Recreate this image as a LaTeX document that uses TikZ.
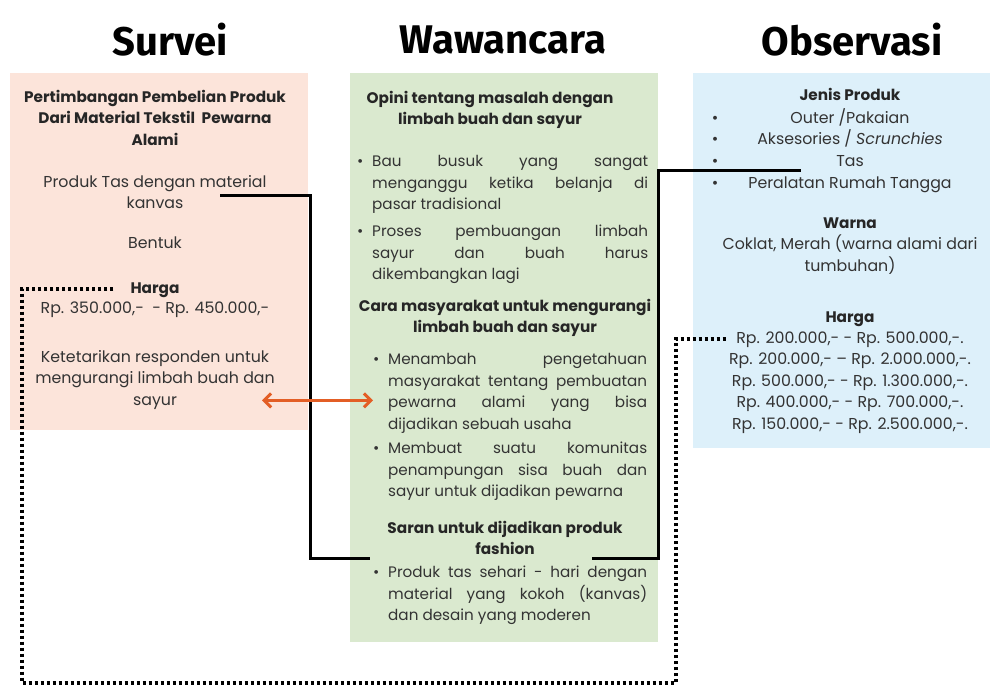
\documentclass[tikz,border=0pt]{standalone}
\usepackage{fontspec}
\setmainfont{Poppins}
\newfontfamily\judulfont{Fira Sans}
\usetikzlibrary{arrows.meta,calc,positioning}

\definecolor{bgsurvei}{HTML}{FCE4DA}
\definecolor{bgwawancara}{HTML}{DAE9CF}
\definecolor{bgobservasi}{HTML}{DDF0FA}
\definecolor{teksabu}{HTML}{333333}
\definecolor{oranye}{HTML}{E35E25}

% bullet list with own indent and item gap
\newenvironment{poin}[2]{\setlength{\linewidth}{\hsize}%
  \hyphenpenalty=10000 \exhyphenpenalty=10000
  \begin{list}{\textbullet}{\setlength{\leftmargin}{#1}\setlength{\labelwidth}{0pt}%
    \setlength{\labelsep}{#1}\setlength{\itemsep}{#2}\setlength{\topsep}{0pt}%
    \setlength{\partopsep}{0pt}\setlength{\parsep}{0pt}%
    \renewcommand{\makelabel}[1]{\rlap{##1}}}}{\end{list}}

\tikzset{
  judul/.style={font=\judulfont\bfseries\fontsize{40}{48}\selectfont, inner sep=0},
  kotak/.style={anchor=north west, inner sep=0, draw=none},
  isi/.style={font=\fontsize{15.8}{21.5}\selectfont, text=teksabu, inner sep=0,
    anchor=north, align=center, execute at begin node=\strut},
  kepala/.style={isi, text=black!85, font=\bfseries\fontsize{15.3}{21.5}\selectfont},
  daftar/.style={font=\fontsize{15.2}{21.5}\selectfont, text=teksabu, inner sep=0,
    anchor=north west, align=justify},
  garis/.style={black, line width=3pt},
  titik/.style={black, line width=3.2pt, dash pattern=on 3pt off 3pt},
  panah/.style={oranye, line width=3pt,
    {Straight Barb[length=7pt,width=14pt]}-{Straight Barb[length=7pt,width=14pt]}},
}

\begin{document}
\begin{tikzpicture}[x=1pt, y=-1pt]
  \fill[white] (0,0) rectangle (992,688);
  \useasboundingbox (0,0) rectangle (992,688);

  % titles
  \node[judul] (t-survei) at (170,40) {Survei};
  \node[judul] (t-wawancara) at (503,40) {Wawancara};
  \node[judul] (t-observasi) at (852,40) {Observasi};

  % boxes
  \node[kotak, fill=bgsurvei, minimum width=298, minimum height=357] (k-survei) at (10,73) {};
  \node[kotak, fill=bgwawancara, minimum width=308, minimum height=569] (k-wawancara) at (350,73) {};
  \node[kotak, fill=bgobservasi, minimum width=297, minimum height=375] (k-observasi) at (693,73) {};

  % Survei
  \node[kepala] (sv-judul) at (155,90)
    {Pertimbangan Pembelian Produk\\ Dari Material Tekstil\ \ Pewarna\\ Alami};
  \node[isi] (sv-tas) at (155,175) {Produk Tas dengan material\\ kanvas};
  \node[isi] (sv-bentuk) at (155,233) {Bentuk};
  \node[kepala] (sv-harga) at (155,278) {Harga};
  \node[isi] (sv-harga-isi) at (155,298) {Rp. 350.000,-\ \ - Rp. 450.000,-};
  \node[isi] (sv-minat) at (155,350)
    {Ketetarikan responden untuk\\ mengurangi limbah buah dan\\ sayur};

  % Wawancara
  \node[kepala] (ww-opini) at (490,91) {Opini tentang masalah dengan\\ limbah buah dan sayur};
  \node[daftar, text width=291] (ww-opini-isi) at (357,145) {%
    \begin{poin}{15pt}{5.5pt}
      \item\strut Bau busuk yang sangat\linebreak menganggu ketika belanja di\linebreak pasar tradisional
      \item\strut Proses pembuangan limbah\linebreak sayur dan buah harus\linebreak dikembangkan lagi
    \end{poin}};
  \node[kepala] (ww-cara) at (505,299) {Cara masyarakat untuk mengurangi\\ limbah buah dan sayur};
  \node[daftar, text width=274] (ww-cara-isi) at (373,343) {%
    \begin{poin}{15pt}{3pt}
      \item\strut Menambah pengetahuan\linebreak masyarakat tentang pembuatan\linebreak pewarna alami yang bisa\linebreak dijadikan sebuah usaha
      \item\strut Membuat suatu komunitas\linebreak penampungan sisa buah dan\linebreak sayur untuk dijadikan pewarna
    \end{poin}};
  \node[kepala] (ww-saran) at (505,521) {Saran untuk dijadikan produk\\ fashion};
  \node[daftar, text width=274] (ww-saran-isi) at (373,556) {%
    \begin{poin}{15pt}{3pt}
      \item\strut Produk tas sehari - hari dengan\linebreak material yang kokoh (kanvas)\linebreak dan desain yang moderen
    \end{poin}};

  % Observasi
  \node[kepala] (ob-jenis) at (850,85) {Jenis Produk};
  \foreach \teks [count=\i] in {Outer /Pakaian, Aksesories / \textit{Scrunchies}, Tas, Peralatan Rumah Tangga} {
    \node[isi] (ob-item-\i) at (850,{108+21.7*(\i-1)}) {\teks};
    \node[isi] (ob-titik-\i) at (715,{108+21.7*(\i-1)}) {\textbullet};
  }
  \node[kepala] (ob-warna) at (850,213) {Warna};
  \node[isi] (ob-warna-isi) at (850,235) {Coklat, Merah (warna alami dari\\ tumbuhan)};
  \node[kepala] (ob-harga) at (850,307) {Harga};
  \foreach \teks [count=\i] in {{Rp. 200.000,- - Rp. 500.000,-.}, {Rp. 200.000,- -- Rp. 2.000.000,-.},
      {Rp. 500.000,- - Rp. 1.300.000,-.}, {Rp. 400.000,- - Rp. 700.000,-.}, {Rp. 150.000,- - Rp. 2.500.000,-.}} {
    \node[isi] (ob-harga-\i) at (850,{328+21.5*(\i-1)}) {\teks};
  }

  % connectors
  \draw[garis] ([xshift=65pt]sv-tas.center) -| ([xshift=-195pt,yshift=3pt]ww-saran.south)
    -- ([xshift=-135pt,yshift=3pt]ww-saran.south);
  \draw[garis] ([xshift=87pt,yshift=3pt]ww-saran.south) -- ([xshift=153pt,yshift=3pt]ww-saran.south)
    |- ([xshift=-35pt,yshift=3pt]ob-item-3.south west);
  \coordinate (sudut-kiri) at (22,683);
  \coordinate (sudut-kanan) at (676,683);
  \draw[titik] ([xshift=-17pt]sv-harga.west) -| (sudut-kiri) -- (sudut-kanan)
    |- ([xshift=-10pt]ob-harga-1.west);
  \coordinate (panah-kiri) at ($(sv-minat.south)+(107,-11.5)$);
  \draw[panah] (panah-kiri) -- (ww-cara-isi.west |- panah-kiri);
\end{tikzpicture}
\end{document}
